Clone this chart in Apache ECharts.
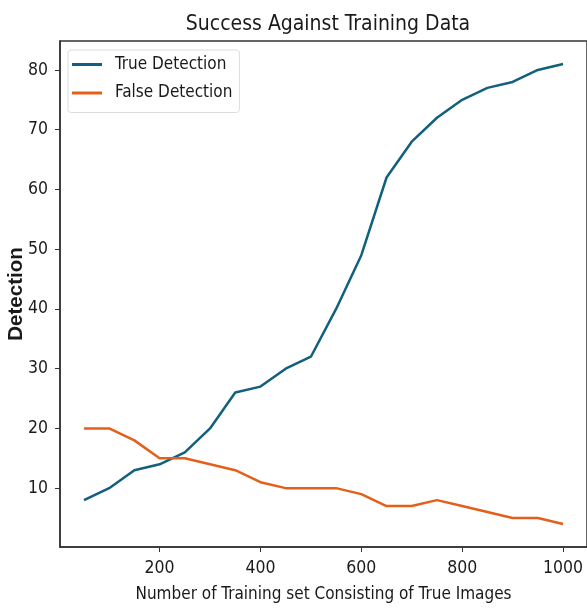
<!DOCTYPE html>
<html><head><meta charset="utf-8">
<script src="https://cdn.jsdelivr.net/npm/echarts@6/dist/echarts.min.js"></script>
<style>html,body{margin:0;padding:0;background:#fff}#c{width:587px;height:610px}</style>
</head><body><div id="c"></div>
<script>
const xValues = [50,100,150,200,250,300,350,400,450,500,550,600,650,700,750,800,850,900,950,1000];
const trueDetection = [8,10,13,14,16,20,26,27,30,32,40,49,62,68,72,75,77,78,80,81];
const falseDetection = [20,20,18,15,15,14,13,11,10,10,10,9,7,7,8,7,6,5,5,4];
const xTicks = [200,400,600,800,1000];
const yTicks = [10,20,30,40,50,60,70,80];

const font = "'DejaVu Sans Condensed', sans-serif";
const chart = echarts.init(document.getElementById('c'), null, {renderer:'canvas'});
chart.setOption({
  animation:false,
  backgroundColor:'#fff',
  title:{text:'Success Against Training Data', left:323, top:9, textAlign:'center',
    textStyle:{fontFamily:font, fontSize:21, fontWeight:'normal', color:'#1a1a1a'}},
  legend:{
    left:68, top:50, orient:'vertical', itemGap:11.5, itemWidth:30, itemHeight:3,
    padding:[6,7,11,4], borderColor:'#dcdcdc', borderWidth:1, borderRadius:3,
    icon:'rect',
    textStyle:{fontFamily:font, fontSize:17, color:'#1a1a1a', padding:[0,0,0,8]},
    data:['True Detection','False Detection']
  },
  grid:{left:60, right:0, top:41, bottom:63, show:true, borderColor:'#333', borderWidth:1.5,
    containLabel:false, outerBoundsMode:'none'},
  xAxis:{type:'value', min:2.5, max:1047.5,
    name:'Number of Training set Consisting of True Images', nameLocation:'middle', nameGap:39,
    nameMoveOverlap:false,
    nameTextStyle:{fontFamily:font, fontSize:17, color:'#1a1a1a'},
    axisLine:{lineStyle:{color:'#333', width:1.5}},
    axisTick:{show:true, length:5, customValues:xTicks, lineStyle:{color:'#333'}},
    axisLabel:{customValues:xTicks, formatter:v=>String(v), fontFamily:font, fontSize:17.5, color:'#1a1a1a', margin:12},
    splitLine:{show:false}},
  yAxis:{type:'value', min:0.15, max:84.85,
    name:'Detection', nameLocation:'middle', nameGap:33,
    nameMoveOverlap:false,
    nameTextStyle:{fontFamily:"'Liberation Sans', sans-serif", fontSize:20.5, color:'#1a1a1a', fontWeight:'bold'},
    axisLine:{show:true, lineStyle:{color:'#333', width:1.5}},
    axisTick:{show:true, length:5, customValues:yTicks, lineStyle:{color:'#333'}},
    axisLabel:{customValues:yTicks, fontFamily:font, fontSize:17.5, color:'#1a1a1a', margin:12},
    splitLine:{show:false}},
  series:[
    {name:'True Detection', type:'line', data:xValues.map((x,i)=>[x,trueDetection[i]]),
      showSymbol:false, lineStyle:{width:2.5, color:'#125f7e'}, itemStyle:{color:'#125f7e'}},
    {name:'False Detection', type:'line', data:xValues.map((x,i)=>[x,falseDetection[i]]),
      showSymbol:false, lineStyle:{width:2.5, color:'#e4601a'}, itemStyle:{color:'#e4601a'}}
  ]
});
</script></body></html>
